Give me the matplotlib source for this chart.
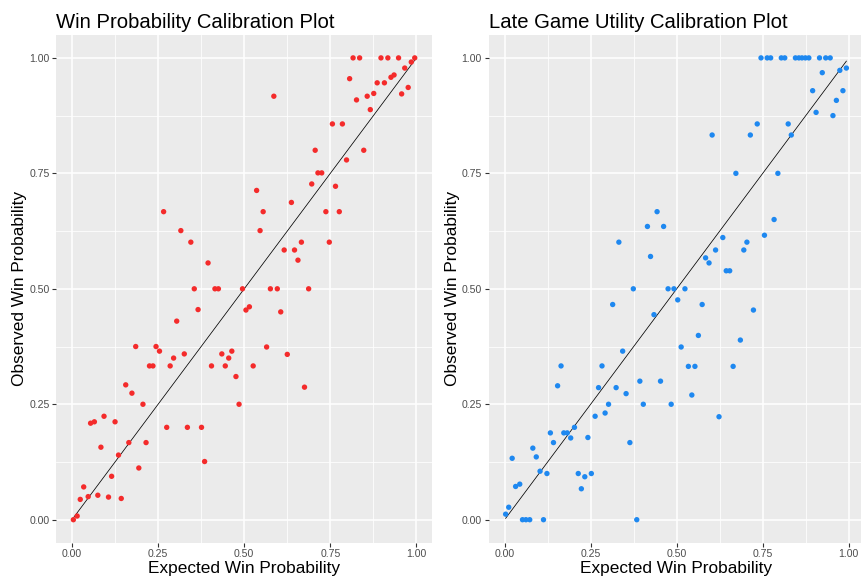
import matplotlib
matplotlib.use("Agg")
import matplotlib.pyplot as plt
import numpy as np

plt.rcParams['font.family'] = ['Liberation Sans', 'DejaVu Sans']

# ---- data: left panel (Win Probability) ----
wp_expected = [0.004, 0.015, 0.024, 0.034, 0.047, 0.054, 0.065, 0.075, 0.084, 0.093,
               0.106, 0.115, 0.125, 0.135, 0.143, 0.156, 0.165, 0.174, 0.185, 0.194,
               0.206, 0.215, 0.225, 0.235, 0.244, 0.254, 0.266, 0.275, 0.285, 0.295,
               0.304, 0.316, 0.326, 0.335, 0.345, 0.355, 0.366, 0.376, 0.385, 0.395,
               0.405, 0.415, 0.425, 0.435, 0.445, 0.455, 0.464, 0.476, 0.485, 0.495,
               0.505, 0.515, 0.526, 0.536, 0.546, 0.555, 0.565, 0.576, 0.586, 0.596,
               0.606, 0.616, 0.625, 0.637, 0.646, 0.656, 0.666, 0.675, 0.687, 0.696,
               0.706, 0.714, 0.725, 0.737, 0.747, 0.756, 0.765, 0.776, 0.785, 0.797,
               0.806, 0.816, 0.826, 0.835, 0.847, 0.857, 0.866, 0.876, 0.886, 0.897,
               0.907, 0.917, 0.926, 0.935, 0.948, 0.957, 0.966, 0.976, 0.985, 0.995]
wp_observed = [0.000, 0.008, 0.044, 0.071, 0.050, 0.209, 0.212, 0.053, 0.157, 0.224,
               0.049, 0.094, 0.212, 0.140, 0.046, 0.292, 0.167, 0.274, 0.375, 0.112,
               0.250, 0.167, 0.333, 0.333, 0.375, 0.365, 0.667, 0.200, 0.333, 0.350,
               0.430, 0.626, 0.359, 0.200, 0.601, 0.500, 0.455, 0.200, 0.126, 0.556,
               0.333, 0.500, 0.500, 0.359, 0.333, 0.350, 0.365, 0.310, 0.250, 0.500,
               0.454, 0.461, 0.333, 0.713, 0.626, 0.667, 0.374, 0.500, 0.917, 0.500,
               0.450, 0.584, 0.358, 0.687, 0.584, 0.562, 0.601, 0.287, 0.500, 0.727,
               0.800, 0.751, 0.751, 0.667, 0.601, 0.857, 0.722, 0.667, 0.857, 0.779,
               0.955, 1.000, 0.909, 1.000, 0.800, 0.917, 0.888, 0.923, 0.946, 1.000,
               0.946, 1.000, 0.958, 0.963, 1.000, 0.922, 0.978, 0.936, 0.991, 1.000]

# ---- data: right panel (Late Game Utility) ----
lgu_expected = [0.003, 0.012, 0.022, 0.032, 0.044, 0.052, 0.062, 0.073, 0.082, 0.092,
                0.103, 0.113, 0.123, 0.133, 0.142, 0.154, 0.164, 0.172, 0.182, 0.192,
                0.203, 0.214, 0.223, 0.233, 0.242, 0.252, 0.263, 0.273, 0.283, 0.292,
                0.302, 0.314, 0.324, 0.332, 0.343, 0.353, 0.364, 0.374, 0.384, 0.393,
                0.403, 0.415, 0.424, 0.434, 0.443, 0.453, 0.462, 0.475, 0.484, 0.492,
                0.503, 0.513, 0.524, 0.534, 0.544, 0.553, 0.563, 0.574, 0.584, 0.594,
                0.603, 0.613, 0.623, 0.634, 0.644, 0.654, 0.664, 0.672, 0.685, 0.695,
                0.704, 0.714, 0.723, 0.734, 0.745, 0.755, 0.763, 0.773, 0.783, 0.794,
                0.804, 0.814, 0.824, 0.833, 0.845, 0.855, 0.864, 0.874, 0.884, 0.895,
                0.905, 0.915, 0.923, 0.933, 0.946, 0.954, 0.964, 0.974, 0.983, 0.993]
lgu_observed = [0.012, 0.027, 0.133, 0.072, 0.077, 0.000, 0.000, 0.000, 0.155, 0.136,
                0.105, 0.000, 0.100, 0.188, 0.167, 0.290, 0.333, 0.188, 0.188, 0.177,
                0.200, 0.100, 0.067, 0.093, 0.178, 0.100, 0.224, 0.286, 0.333, 0.231,
                0.250, 0.466, 0.286, 0.601, 0.365, 0.273, 0.167, 0.500, 0.000, 0.300,
                0.250, 0.635, 0.570, 0.444, 0.667, 0.300, 0.635, 0.500, 0.250, 0.500,
                0.476, 0.374, 0.500, 0.332, 0.270, 0.332, 0.399, 0.466, 0.567, 0.556,
                0.833, 0.584, 0.223, 0.611, 0.539, 0.539, 0.332, 0.750, 0.389, 0.584,
                0.601, 0.833, 0.454, 0.857, 1.000, 0.616, 1.000, 1.000, 0.650, 0.750,
                1.000, 1.000, 0.857, 0.833, 1.000, 1.000, 1.000, 1.000, 1.000, 0.929,
                0.882, 1.000, 0.968, 1.000, 1.000, 0.875, 0.908, 0.973, 0.929, 0.978]

tick_vals = [0.0, 0.25, 0.5, 0.75, 1.0]
tick_labels = ["0.00", "0.25", "0.50", "0.75", "1.00"]
minor_vals = [0.125, 0.375, 0.625, 0.875]

W, H = 862, 581
fig = plt.figure(figsize=(W / 100, H / 100), dpi=100)
fig.patch.set_facecolor('white')


def px_axes(left, top, right, bottom):
    return fig.add_axes([left / W, 1 - bottom / H, (right - left) / W, (bottom - top) / H])


def style(ax, xs, ys):
    ax.set_facecolor('#EBEBEB')
    for s in ax.spines.values():
        s.set_visible(False)
    xmin, xmax = min(xs), max(xs)
    ex = (xmax - xmin) * 0.05
    ax.set_xlim(xmin - ex, xmax + ex)
    ax.set_ylim(-0.05, 1.05)
    ax.set_xticks(tick_vals)
    ax.set_xticklabels(tick_labels)
    ax.set_yticks(tick_vals)
    ax.set_yticklabels(tick_labels)
    ax.set_xticks(minor_vals, minor=True)
    ax.set_yticks(minor_vals, minor=True)
    ax.grid(which='major', color='white', linewidth=1.1)
    ax.grid(which='minor', color='white', linewidth=0.55)
    ax.set_axisbelow(True)
    ax.tick_params(which='major', length=2.8, width=0.8, color='#333333',
                   labelsize=7.6, labelcolor='#4D4D4D', pad=2)
    ax.tick_params(which='minor', length=0)


def panel(ax, xs, ys, color, title):
    style(ax, xs, ys)
    ax.scatter(xs, ys, s=15, color=color, edgecolors='none', zorder=3)
    ax.plot([xs[0], xs[-1]], [xs[0], xs[-1]], color='black', linewidth=0.55, zorder=2)


ax1 = px_axes(56.3, 34.8, 431.8, 542.8)
panel(ax1, wp_expected, wp_observed, '#F42B2B', "Win Probability Calibration Plot")
ax2 = px_axes(488.6, 34.8, 863.4, 542.8)
panel(ax2, lgu_expected, lgu_observed, '#1E88F0', "Late Game Utility Calibration Plot")

# titles
fig.text(56.5 / W, 1 - 28.5 / H, "Win Probability Calibration Plot", fontsize=14.6,
         ha='left', va='baseline', color='black')
fig.text(489 / W, 1 - 28.5 / H, "Late Game Utility Calibration Plot", fontsize=14.6,
         ha='left', va='baseline', color='black')

# axis labels
fig.text(244 / W, 1 - 573.5 / H, "Expected Win Probability", fontsize=12.4,
         ha='center', va='baseline')
fig.text(676 / W, 1 - 573.5 / H, "Expected Win Probability", fontsize=12.4,
         ha='center', va='baseline')
fig.text(20 / W, 1 - 289 / H, "Observed Win Probability", fontsize=12.4,
         ha='center', va='center', rotation=90)
fig.text(453 / W, 1 - 289 / H, "Observed Win Probability", fontsize=12.4,
         ha='center', va='center', rotation=90)

fig.savefig("out.png", dpi=100)
